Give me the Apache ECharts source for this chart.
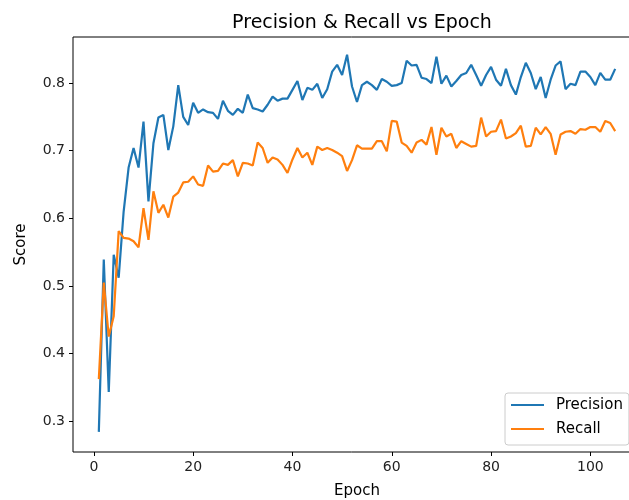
<!DOCTYPE html>
<html><head><meta charset="utf-8">
<script src="https://cdn.jsdelivr.net/npm/echarts@6/dist/echarts.min.js"></script>
<style>html,body{margin:0;padding:0;background:#fff}#c{width:629px;height:500px}</style>
</head><body><div id="c"></div>
<script>
const epochs = Array.from({length:105},(_,i)=>i+1);
const precision = [0.284,0.539,0.343,0.546,0.512,0.610,0.675,0.704,0.675,0.743,0.625,0.711,0.749,0.753,0.701,
0.736,0.797,0.750,0.738,0.771,0.756,0.761,0.757,0.756,0.747,0.774,0.759,0.753,0.762,0.756,0.783,0.763,
0.761,0.758,0.768,0.780,0.774,0.777,0.777,0.790,0.803,0.775,0.793,0.790,0.799,0.778,0.791,0.817,0.827,0.812,
0.842,0.795,0.772,0.797,0.802,0.797,0.790,0.806,0.802,0.796,0.797,0.800,0.833,0.826,0.827,0.808,0.806,
0.800,0.839,0.799,0.811,0.795,0.803,0.812,0.815,0.827,0.812,0.796,0.812,0.824,0.805,0.796,0.821,0.797,
0.783,0.809,0.830,0.815,0.791,0.809,0.778,0.805,0.826,0.832,0.791,0.799,0.797,0.817,0.817,0.809,0.797,0.815,0.805,0.805,0.821];
const recall = [0.362,0.505,0.425,0.455,0.581,0.571,0.570,0.566,0.557,0.615,0.568,0.640,0.608,0.620,0.601,
0.632,0.638,0.653,0.654,0.662,0.650,0.648,0.678,0.669,0.670,0.681,0.679,0.686,0.662,0.682,0.681,0.678,
0.712,0.704,0.682,0.690,0.687,0.679,0.667,0.687,0.704,0.690,0.697,0.679,0.706,0.701,0.704,0.701,0.697,0.692,
0.670,0.686,0.708,0.703,0.703,0.703,0.714,0.714,0.699,0.744,0.743,0.712,0.707,0.697,0.712,0.716,0.709,
0.735,0.694,0.734,0.721,0.725,0.704,0.714,0.710,0.706,0.707,0.749,0.721,0.728,0.729,0.746,0.718,0.721,
0.726,0.737,0.706,0.707,0.734,0.724,0.735,0.725,0.694,0.724,0.728,0.729,0.725,0.732,0.731,0.735,0.735,0.728,0.744,0.741,0.729];
const xTicks = [0,20,40,60,80,100];
const yTicks = [0.3,0.4,0.5,0.6,0.7,0.8];

const font = 'DejaVu Sans';
const chart = echarts.init(document.getElementById('c'), null, {renderer:'canvas'});
chart.setOption({
  animation:false,
  backgroundColor:'#fff',
  title:{text:'Precision & Recall vs Epoch', left:357, top:9, textAlign:'center',
    textStyle:{fontFamily:font,fontSize:19,fontWeight:'normal',color:'#000'}},
  grid:{left:73,top:37,width:568,height:415,show:true,borderColor:'#000',borderWidth:1,
    backgroundColor:'transparent',containLabel:false,outerBoundsMode:'none'},
  legend:{orient:'vertical',left:505,top:393,itemWidth:33,itemHeight:2,itemGap:6,icon:'rect',
    padding:[3,6,7,6],borderColor:'#ccc',borderWidth:1,borderRadius:3,backgroundColor:'rgba(255,255,255,0.8)',
    textStyle:{fontFamily:font,fontSize:15,color:'#000',lineHeight:18,padding:[0,0,0,7]},data:['Precision','Recall']},
  xAxis:{type:'value',min:-4.2,max:110.2,name:'Epoch',nameLocation:'middle',nameGap:32,
    nameTextStyle:{fontFamily:font,fontSize:15,color:'#000'},
    axisLine:{show:false,onZero:false},splitLine:{show:false},
    axisTick:{show:true,length:4,lineStyle:{color:'#000'},customValues:xTicks},
    axisLabel:{fontFamily:font,fontSize:14,color:'#222',margin:8,customValues:xTicks}},
  yAxis:{type:'value',min:0.2542,max:0.8682,name:'Score',nameLocation:'middle',nameGap:44,
    nameTextStyle:{fontFamily:font,fontSize:15,color:'#000'},
    axisLine:{show:false,onZero:false},splitLine:{show:false},
    axisTick:{show:true,length:4,lineStyle:{color:'#000'},customValues:yTicks},
    axisLabel:{fontFamily:font,fontSize:14,color:'#222',margin:8,customValues:yTicks,formatter:v=>v.toFixed(1)}},
  series:[
    {name:'Precision',type:'line',data:epochs.map((e,i)=>[e,precision[i]]),showSymbol:false,
      lineStyle:{color:'#1f77b4',width:2.2},itemStyle:{color:'#1f77b4'}},
    {name:'Recall',type:'line',data:epochs.map((e,i)=>[e,recall[i]]),showSymbol:false,
      lineStyle:{color:'#ff7f0e',width:2.2},itemStyle:{color:'#ff7f0e'}}
  ]
});
</script></body></html>
